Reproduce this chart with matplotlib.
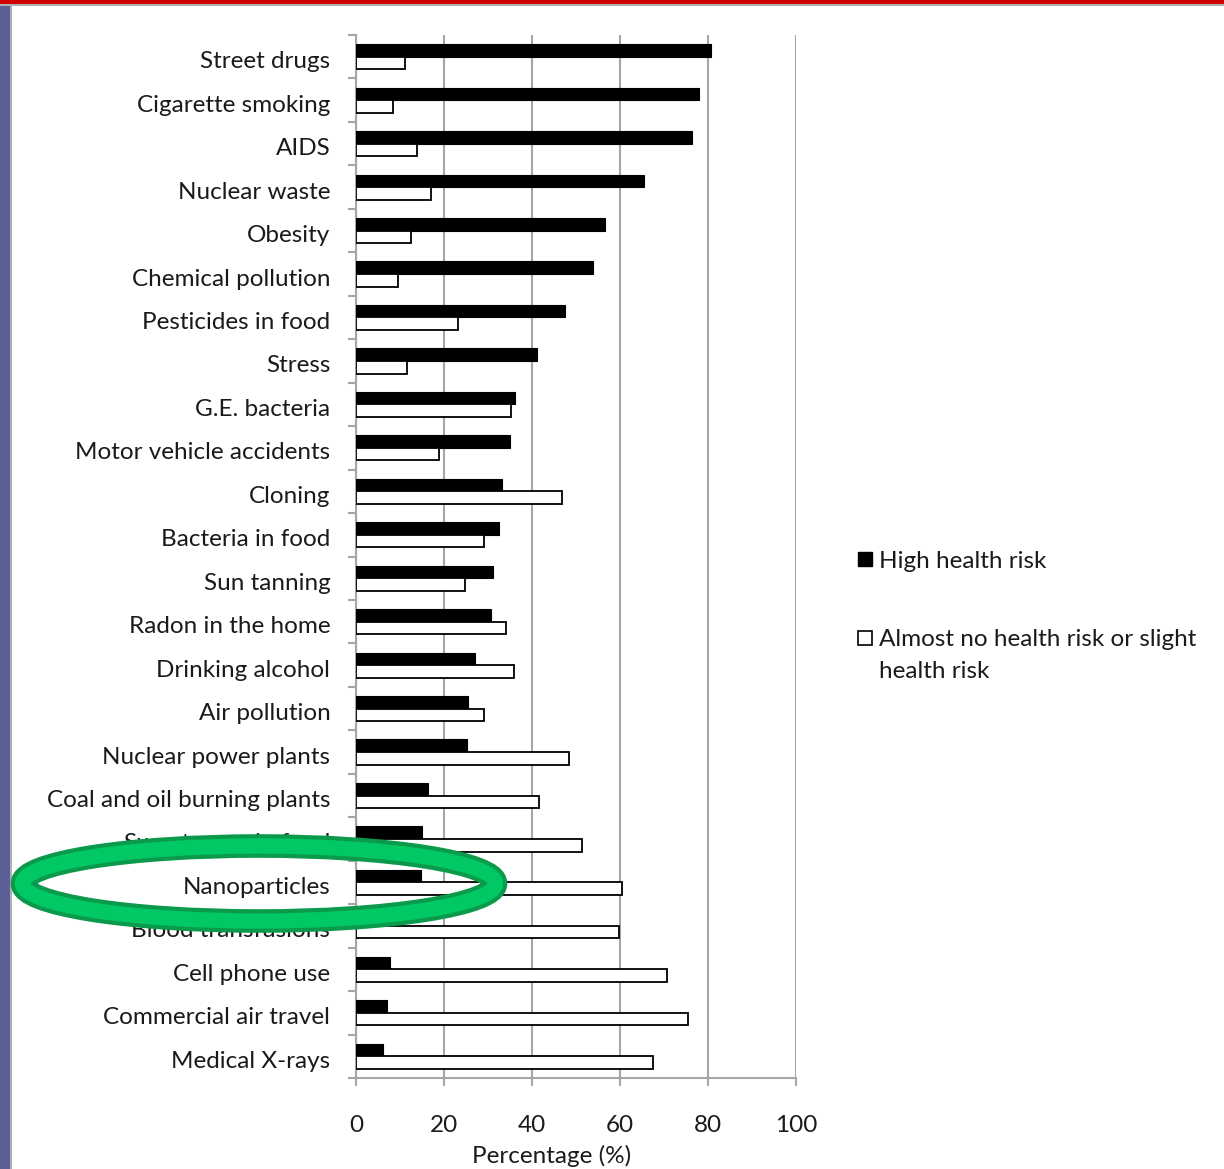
import matplotlib
matplotlib.use("Agg")
import matplotlib.pyplot as plt
import matplotlib.transforms as mtransforms
from matplotlib.patches import Ellipse, Rectangle
import numpy as np

# data (percent of respondents)
categorias = [
    "Street drugs", "Cigarette smoking", "AIDS", "Nuclear waste", "Obesity",
    "Chemical pollution", "Pesticides in food", "Stress", "G.E. bacteria",
    "Motor vehicle accidents", "Cloning", "Bacteria in food", "Sun tanning",
    "Radon in the home", "Drinking alcohol", "Air pollution",
    "Nuclear power plants", "Coal and oil burning plants", "Sweeteners in food",
    "Nanoparticles", "Blood transfusions", "Cell phone use",
    "Commercial air travel", "Medical X-rays",
]
risco_alto = [80.7, 77.9, 76.4, 65.5, 56.7, 53.9, 47.6, 41.1, 36.1, 35.0,
              33.2, 32.6, 31.1, 30.6, 27.0, 25.5, 25.2, 16.4, 15.0, 14.8,
              10.0, 7.7, 7.1, 6.1]
risco_baixo = [11.1, 8.3, 13.8, 17.0, 12.5, 9.6, 23.1, 11.6, 35.2, 18.9,
               46.8, 29.0, 24.8, 34.1, 35.8, 29.2, 48.5, 41.5, 51.4, 60.4,
               59.8, 70.7, 75.4, 67.6]
ticks_x = [0, 20, 40, 60, 80, 100]

plt.rcParams['font.family'] = ['Lato', 'DejaVu Sans']
cor_texto = '#1a1a1a'
cinza = '#a6a6a6'
fs = 17.5

fig = plt.figure(figsize=(12.24, 11.69), dpi=100)

# slide frame: purple stripe on the left, red band on top
fig.add_artist(Rectangle((0, 0), 10 / 1224, 1, transform=fig.transFigure,
                         facecolor='#5b5f95', edgecolor='none', zorder=0))
fig.add_artist(Rectangle((10 / 1224, 0), 2 / 1224, 1, transform=fig.transFigure,
                         facecolor='#b0b0b0', edgecolor='none', zorder=0))
fig.add_artist(Rectangle((0, 1 - 6 / 1169), 1, 6 / 1169, transform=fig.transFigure,
                         facecolor='#b0b0b0', edgecolor='none', zorder=0))
fig.add_artist(Rectangle((0, 1 - 4 / 1169), 1, 4 / 1169, transform=fig.transFigure,
                         facecolor='#d00000', edgecolor='none', zorder=0))

ax = fig.add_axes([356 / 1224, 91 / 1169, 440 / 1224, 1043 / 1169])

y = np.arange(len(categorias))
h = 0.29
ax.barh(y - h / 2, risco_alto, height=h, color='black', edgecolor='black',
        linewidth=0.8, zorder=3, label='High health risk')
ax.barh(y + h / 2, risco_baixo, height=h, color='white', edgecolor='black',
        linewidth=1.3, zorder=3, label='Almost no health risk or slight\nhealth risk')

ax.set_xlim(0, 100)
ax.set_ylim(len(categorias) - 0.5, -0.5)
ax.set_xticks(ticks_x)
ax.set_xticklabels([str(t) for t in ticks_x])
ax.set_yticks(y)
ax.set_yticklabels(categorias)
ax.set_yticks(np.arange(len(categorias) + 1) - 0.5, minor=True)

ax.grid(axis='x', color=cinza, linewidth=1.5, zorder=0)
for s in ['top', 'right']:
    ax.spines[s].set_visible(False)
for s in ['left', 'bottom']:
    ax.spines[s].set_color(cinza)
    ax.spines[s].set_linewidth(1.5)

ax.tick_params(axis='y', which='major', length=0, pad=18.5, labelsize=fs,
               labelcolor=cor_texto)
ax.tick_params(axis='y', which='minor', length=6, width=1.5, color=cinza)
ax.tick_params(axis='x', which='major', length=6, width=1.5, color=cinza,
               pad=20.5, labelsize=fs, labelcolor=cor_texto)

# labels sit a few pixels below the band centre in the original
desloc = mtransforms.ScaledTranslation(0, -3 / 100, fig.dpi_scale_trans)
for lbl in ax.get_yticklabels():
    lbl.set_transform(lbl.get_transform() + desloc)

ax.set_xlabel('Percentage (%)', fontsize=fs, color=cor_texto)
ax.xaxis.set_label_coords((552 - 356) / 440, -67 / 1043)

# legend drawn by hand to match the slide layout
fig.add_artist(Rectangle((858 / 1224, 1 - 566 / 1169), 14 / 1224, 14 / 1169,
                         transform=fig.transFigure, facecolor='black',
                         edgecolor='black', linewidth=1))
fig.text(879 / 1224, 1 - 561 / 1169, 'High health risk', fontsize=fs,
         color=cor_texto, va='center', ha='left')
fig.add_artist(Rectangle((858 / 1224, 1 - 645 / 1169), 14 / 1224, 14 / 1169,
                         transform=fig.transFigure, facecolor='white',
                         edgecolor='black', linewidth=1.2))
fig.text(879 / 1224, 1 - 640 / 1169, 'Almost no health risk or slight',
         fontsize=fs, color=cor_texto, va='center', ha='left')
fig.text(879 / 1224, 1 - 671 / 1169, 'health risk',
         fontsize=fs, color=cor_texto, va='center', ha='left')

# green highlight ring around "Nanoparticles"
anel_x, anel_y = 2.59, (1169 - 883.5) / 100
fig.add_artist(Ellipse((anel_x, anel_y), 4.73, 0.75, transform=fig.dpi_scale_trans,
                       fill=False, edgecolor='#0b9a4b', linewidth=17, zorder=10))
fig.add_artist(Ellipse((anel_x, anel_y), 4.73, 0.75, transform=fig.dpi_scale_trans,
                       fill=False, edgecolor='#00c864', linewidth=11, zorder=11))

fig.savefig('out.png', dpi=100)
